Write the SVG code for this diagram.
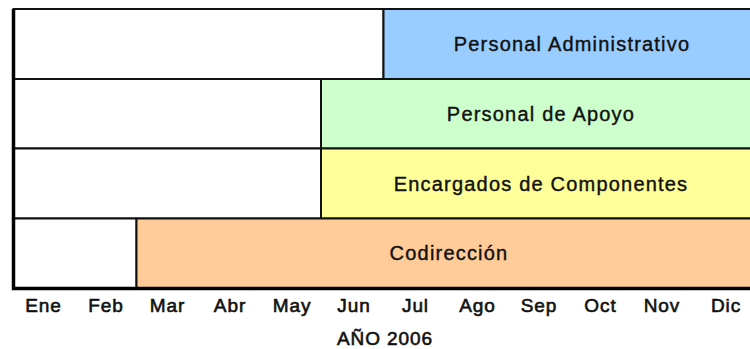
<svg xmlns="http://www.w3.org/2000/svg" width="750" height="349" viewBox="0 0 750 349">
<style>
  .cell { stroke: #111; stroke-width: 2; }
  .white { fill: #ffffff; }
  .blue { fill: #99ccff; }
  .green { fill: #ccffcc; }
  .yellow { fill: #ffff99; }
  .orange { fill: #ffcc99; }
  .lbl { font-family: "Liberation Sans", Arial, sans-serif; font-size: 20px; letter-spacing: 1.2px; fill: #111; stroke: #111; stroke-width: 0.4px; text-anchor: middle; }
  .mon { font-family: "Liberation Sans", Arial, sans-serif; font-size: 19px; letter-spacing: 0.9px; fill: #111; stroke: #111; stroke-width: 0.6px; text-anchor: middle; }
  .axis { stroke: #000; stroke-width: 3.5; fill: none; }
</style>
<rect width="750" height="349" fill="#ffffff"/>
<g id="row-administrativo">
  <rect class="cell white" x="13.5" y="9" width="370" height="70"/>
  <rect class="cell blue" x="383.5" y="9" width="380" height="70"/>
  <text class="lbl" x="572" y="51">Personal Administrativo</text>
</g>
<g id="row-apoyo">
  <rect class="cell white" x="13.5" y="79" width="307.5" height="69.5"/>
  <rect class="cell green" x="321" y="79" width="442" height="69.5"/>
  <text class="lbl" x="541" y="120.7">Personal de Apoyo</text>
</g>
<g id="row-encargados">
  <rect class="cell white" x="13.5" y="148.5" width="307.5" height="70"/>
  <rect class="cell yellow" x="321" y="148.5" width="442" height="70"/>
  <text class="lbl" x="541" y="190.5">Encargados de Componentes</text>
</g>
<g id="row-codireccion">
  <rect class="cell white" x="13.5" y="218.5" width="123" height="70"/>
  <rect class="cell orange" x="136.5" y="218.5" width="627" height="70"/>
  <text class="lbl" x="449" y="260.3">Codirección</text>
</g>
<g id="connectors">
  <polyline class="axis" points="13.5,9 13.5,288.5 760,288.5"/>
</g>
<g id="axis-labels">
  <text class="mon" x="43.5" y="311.7">Ene</text>
  <text class="mon" x="106" y="311.7">Feb</text>
  <text class="mon" x="167.5" y="311.7">Mar</text>
  <text class="mon" x="230" y="311.7">Abr</text>
  <text class="mon" x="292" y="311.7">May</text>
  <text class="mon" x="354" y="311.7">Jun</text>
  <text class="mon" x="415.5" y="311.7">Jul</text>
  <text class="mon" x="477.5" y="311.7">Ago</text>
  <text class="mon" x="539" y="311.7">Sep</text>
  <text class="mon" x="600.5" y="311.7">Oct</text>
  <text class="mon" x="662" y="311.7">Nov</text>
  <text class="mon" x="726" y="311.7">Dic</text>
  <text class="mon" x="385" y="345">AÑO 2006</text>
</g>
</svg>
